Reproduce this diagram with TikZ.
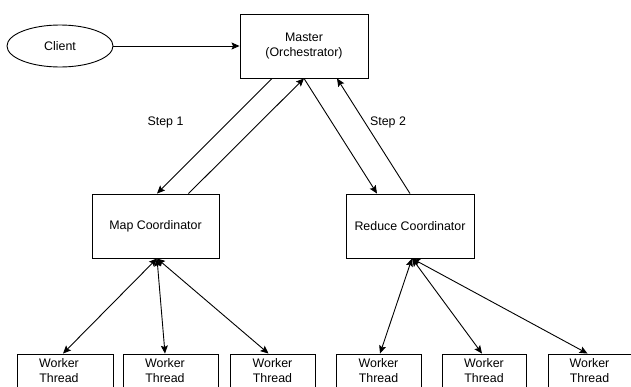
\documentclass[tikz,border=0pt]{standalone}
\usepackage{fontspec}
\setmainfont{Liberation Sans}
\usetikzlibrary{arrows.meta,shapes.geometric}
\begin{document}
\begin{tikzpicture}[x=1pt,y=-1pt,
  every node/.style={font=\fontsize{12.4}{15}\selectfont, align=center, inner sep=0pt},
  box/.style={draw, line width=0.9pt, rectangle},
  wbox/.style={box, minimum height=34pt},
  arr/.style={line width=0.9pt, -{Stealth[length=8pt,width=7pt,inset=1.5pt]}},
  barr/.style={line width=0.9pt, {Stealth[length=8pt,width=7pt,inset=1.5pt]}-{Stealth[length=8pt,width=7pt,inset=1.5pt]}}
]
\useasboundingbox (0,0) rectangle (631,386);
\fill[white] (0,0) rectangle (631,386);

\node[draw, line width=0.9pt, ellipse, minimum width=106pt, minimum height=42pt] (client) at (60,46) {Client};
\node[box, minimum width=128pt, minimum height=64pt] (master) at (304,46) {Master\\(Orchestrator)};
\node[box, minimum width=127pt, minimum height=64pt] (map) at (155.5,226) {Map Coordinator};
\node[box, minimum width=128pt, minimum height=64pt] (reduce) at (410,226) {Reduce Coordinator};

\node (s1) at (165.5,122) {Step 1};
\node (s2) at (388,122) {Step 2};

\node[wbox, minimum width=96pt] (w1) at (65,371) {};
\node (t1) at (59,370.5) {Worker\\Thread};
\node[wbox, minimum width=95pt] (w2) at (170.5,371) {};
\node (t2) at (165,370.5) {Worker\\Thread};
\node[wbox, minimum width=85pt] (w3) at (272.5,371) {Worker\\Thread};
\node[wbox, minimum width=85pt] (w4) at (378.5,371) {Worker\\Thread};
\node[wbox, minimum width=84pt] (w5) at (484,371) {Worker\\Thread};
\node[wbox, minimum width=83pt] (w6) at (589.5,371) {Worker\\Thread};

\draw[arr] (client) -- (master);
\draw[arr] ([xshift=-32pt]master.south) -- ([xshift=1.5pt]map.north);
\draw[arr] ([xshift=33pt]map.north) -- (master.south);
\draw[arr] (master.south) -- ([xshift=-33pt]reduce.north);
\draw[arr] (reduce.north) -- ([xshift=33pt]master.south);

\draw[barr] ([xshift=1.5pt]map.south) -- ([xshift=-2pt]w1.north);
\draw[barr] ([xshift=1.5pt]map.south) -- ([xshift=-5.5pt]w2.north);
\draw[barr] ([xshift=1.5pt]map.south) -- ([xshift=-4pt]w3.north);
\draw[barr] ([xshift=2pt]reduce.south) -- ([xshift=1.5pt]w4.north);
\draw[barr] ([xshift=2pt]reduce.south) -- ([xshift=-2pt]w5.north);
\draw[barr] ([xshift=2pt]reduce.south) -- ([xshift=-2pt]w6.north);
\end{tikzpicture}
\end{document}
